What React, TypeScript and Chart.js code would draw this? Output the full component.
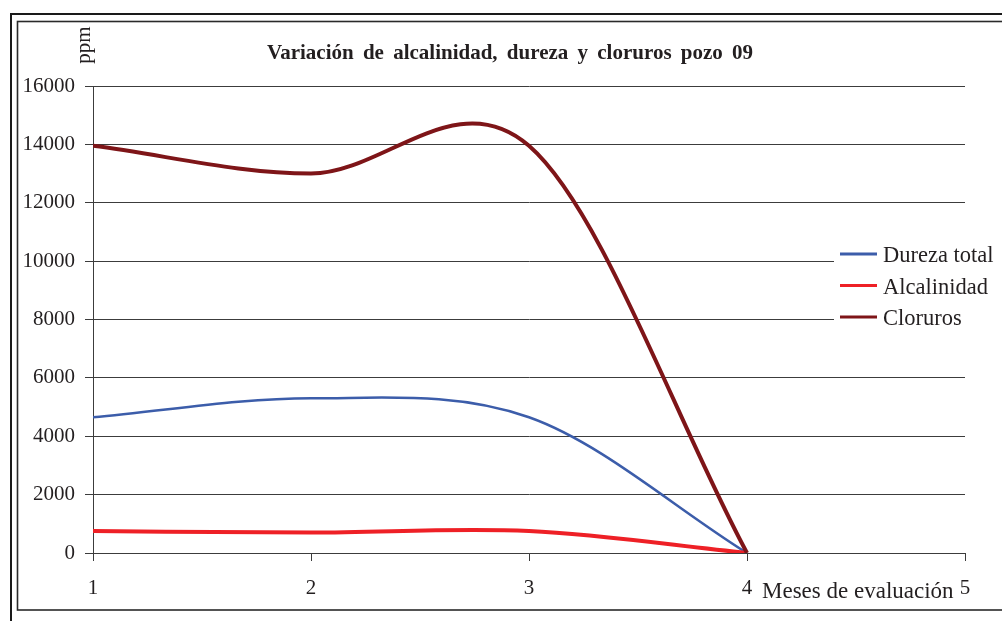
import React, { useEffect, useRef } from "react";
import { Chart, registerables } from "chart.js";

Chart.register(...registerables);

const months = [1, 2, 3, 4];
const durezaTotal = [4650, 5300, 4650, 0];
const alcalinidad = [750, 700, 750, 0];
const cloruros = [13950, 13000, 13950, 0];
const xTickValues = [1, 2, 3, 4, 5];
const seriesLabels = ["Dureza total", "Alcalinidad", "Cloruros"];
const seriesColors = ["#3C5DAA", "#EE2026", "#7E1518"];
const seriesWidths = [2.5, 4, 4];
const chartTitle = "Variación de alcalinidad, dureza y cloruros pozo 09";
const yTitle = "ppm";
const xTitle = "Meses de evaluación";

const FONT = '"Liberation Serif", "Times New Roman", serif';
const TEXT = "#231f20";
const GRID = "#3c3c3c";

// Excel-like smoothing (Catmull-Rom converted to Bezier control points)
const excelSmooth = {
  id: "excelSmooth",
  beforeDatasetDraw(chart: any, args: any) {
    const meta = args.meta;
    const line = meta.dataset;
    if (line && line.updateControlPoints) line.updateControlPoints(chart.chartArea, meta.iScale.axis);
    const pts = meta.data;
    for (let i = 0; i < pts.length; i++) {
      const p = pts[i];
      const prev = pts[i - 1];
      const next = pts[i + 1];
      let tx = 0, ty = 0;
      if (prev && next) { tx = (next.x - prev.x) / 2; ty = (next.y - prev.y) / 2; }
      else if (next) { tx = next.x - p.x; ty = next.y - p.y; }
      else if (prev) { tx = p.x - prev.x; ty = p.y - prev.y; }
      p.cp1x = p.x - tx / 3; p.cp1y = p.y - ty / 3;
      p.cp2x = p.x + tx / 3; p.cp2y = p.y + ty / 3;
    }
    if (line) line._path = undefined;
  },
};

const frame = {
  id: "frame",
  beforeDraw(chart: any) {
    const ctx = chart.ctx;
    ctx.save();
    ctx.fillStyle = "#ffffff";
    ctx.fillRect(0, 0, chart.width, chart.height);
    ctx.strokeStyle = "#1a1a1a";
    ctx.lineWidth = 2;
    ctx.strokeRect(11, 14, 2000, 2000);
    ctx.lineWidth = 1.6;
    ctx.strokeStyle = "#2a2a2a";
    ctx.strokeRect(17.5, 21.5, 2000, 588.5);
    ctx.restore();
  },
  afterDraw(chart: any) {
    const ctx = chart.ctx;
    ctx.save();
    ctx.fillStyle = TEXT;
    // title
    ctx.font = `bold 21px ${FONT}`;
    ctx.textAlign = "center";
    ctx.textBaseline = "alphabetic";
    try { (ctx as any).wordSpacing = "4px"; } catch (e) { /* ignore */ }
    ctx.fillText(chartTitle, 510, 59);
    try { (ctx as any).wordSpacing = "0px"; } catch (e) { /* ignore */ }
    // y title
    ctx.save();
    ctx.translate(90, 45);
    ctx.rotate(-Math.PI / 2);
    ctx.font = `21px ${FONT}`;
    ctx.textAlign = "center";
    ctx.fillText(yTitle, 0, 0);
    ctx.restore();
    // x title
    ctx.font = `23px ${FONT}`;
    ctx.textAlign = "left";
    ctx.fillText(xTitle, 762, 598);
    // legend
    ctx.fillStyle = "#ffffff";
    ctx.fillRect(834, 236, 166, 100);
    const ds = chart.data.datasets;
    const ys = [254, 285.5, 317];
    for (let i = 0; i < seriesLabels.length; i++) {
      const d = ds.find((s: any) => s.label === seriesLabels[i]);
      ctx.strokeStyle = d.borderColor;
      ctx.lineWidth = 3;
      ctx.beginPath();
      ctx.moveTo(840, ys[i]);
      ctx.lineTo(877, ys[i]);
      ctx.stroke();
      ctx.fillStyle = TEXT;
      ctx.font = `22.5px ${FONT}`;
      ctx.textAlign = "left";
      ctx.fillText(d.label, 883, ys[i] + 8);
    }
    ctx.restore();
  },
};

export default function App() {
  const ref = useRef<HTMLCanvasElement | null>(null);

  useEffect(() => {
    document.body.style.margin = "0";
    const series = [durezaTotal, alcalinidad, cloruros];
    const chart = new Chart(ref.current as HTMLCanvasElement, {
      type: "line",
      data: {
        datasets: series.map((vals, i) => ({
          label: seriesLabels[i],
          data: months.map((m, j) => ({ x: m, y: vals[j] })),
          borderColor: seriesColors[i],
          backgroundColor: seriesColors[i],
          borderWidth: seriesWidths[i],
          pointRadius: 0,
          tension: 0.4,
          fill: false,
          order: 2 - i,
        })),
      },
      options: {
        animation: false,
        responsive: true,
        maintainAspectRatio: false,
        layout: { padding: { left: 10, top: 86, right: 37, bottom: 10 } },
        plugins: {
          legend: { display: false },
          title: { display: false },
          tooltip: { enabled: false },
        },
        scales: {
          x: {
            type: "linear",
            min: 1,
            max: 5,
            afterBuildTicks: (s: any) => {
              s.ticks = xTickValues.map((v) => ({ value: v }));
            },
            ticks: {
              color: TEXT,
              font: { family: FONT, size: 21 },
              padding: 15,
              maxRotation: 0,
              callback: (v: any) => String(v),
            },
            grid: { drawOnChartArea: false, drawTicks: true, tickLength: 8, color: GRID, lineWidth: 1 },
            border: { display: true, color: GRID, width: 1 },
            afterFit: (s: any) => { s.height = 58; },
          },
          y: {
            type: "linear",
            min: 0,
            max: 16000,
            ticks: {
              stepSize: 2000,
              color: TEXT,
              font: { family: FONT, size: 21 },
              padding: 10,
              callback: (v: any) => String(v),
            },
            grid: { color: GRID, lineWidth: 1, tickLength: 8, drawTicks: true },
            border: { display: true, color: GRID, width: 1 },
            afterFit: (s: any) => { s.width = 83; },
          },
        },
      },
      plugins: [excelSmooth, frame],
    });
    return () => chart.destroy();
  }, []);

  return (
    <div style={{ position: "absolute", left: 0, top: 0, width: 1002, height: 621 }}>
      <canvas ref={ref} />
    </div>
  );
}
